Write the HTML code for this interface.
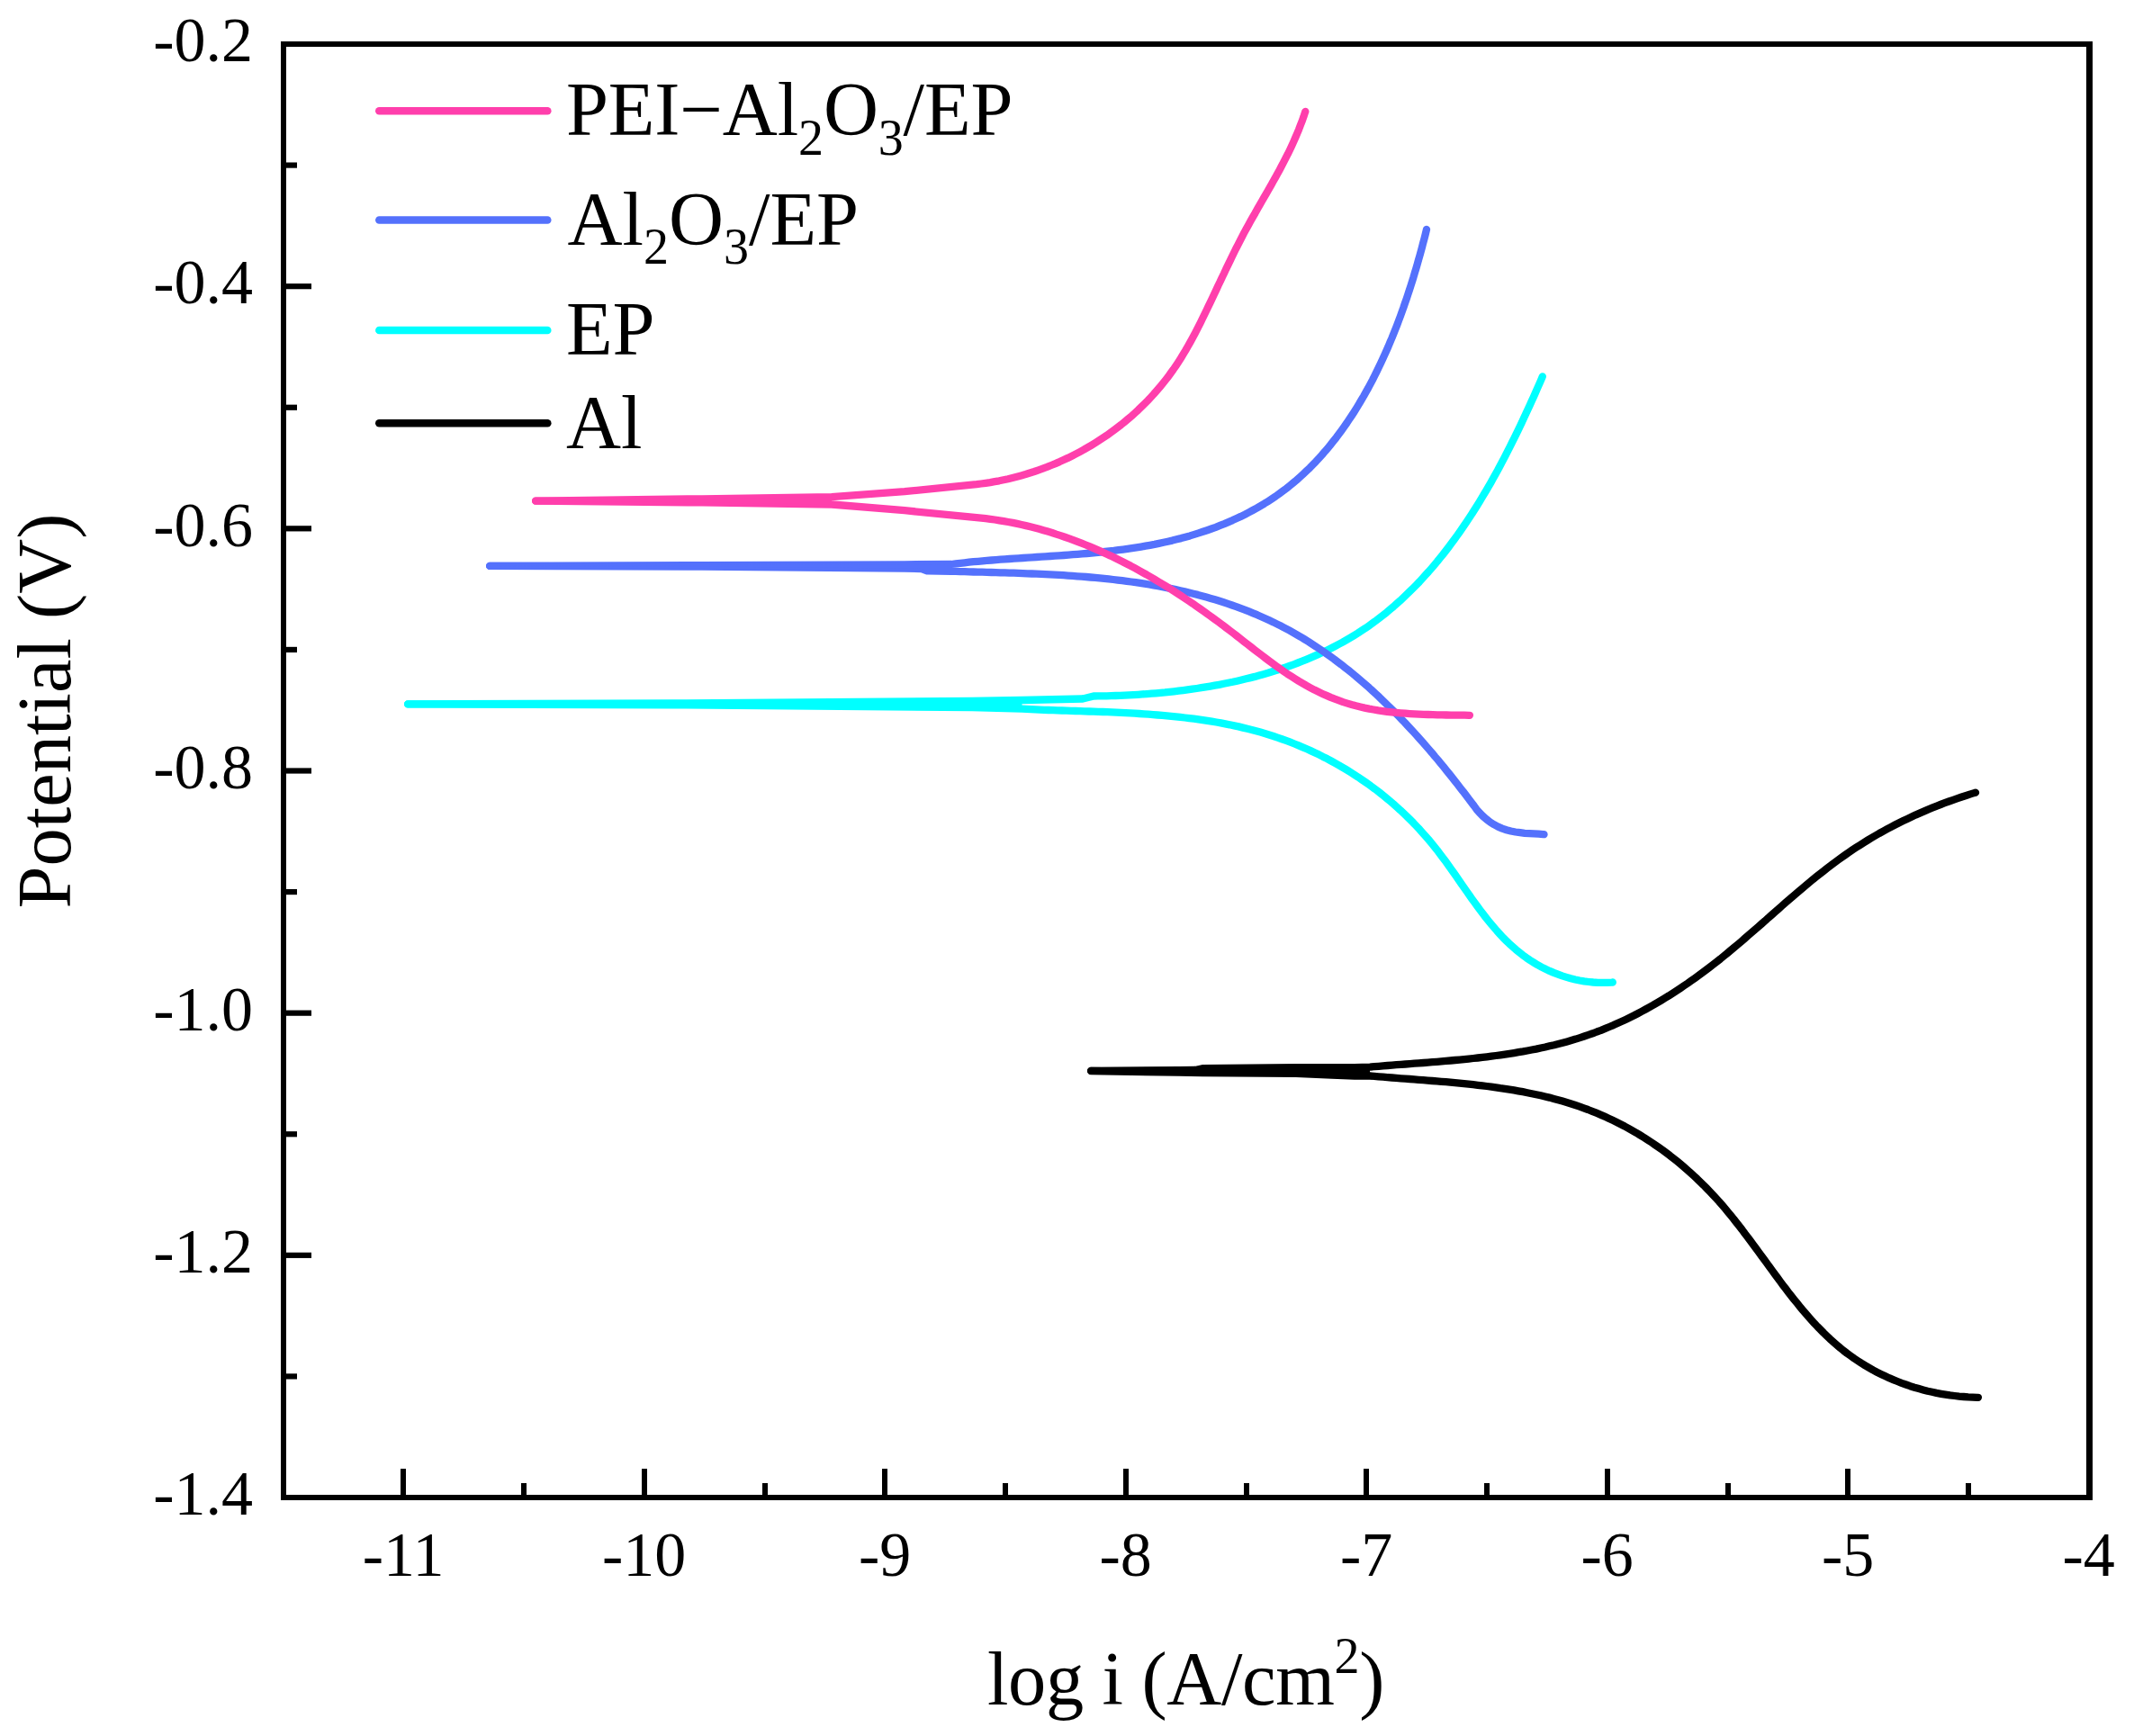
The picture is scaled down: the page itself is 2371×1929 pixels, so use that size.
<!DOCTYPE html>
<html lang="en"><head><meta charset="utf-8"><title>Polarization curves</title>
<style>html,body{margin:0;padding:0;background:#fff}body{width:2371px;height:1929px;overflow:hidden}svg{display:block}text{font-family:"Liberation Serif","Times New Roman",serif;fill:#000}.tk{font-size:70px}.lb{font-size:84.5px}.sub{font-size:56px}</style></head><body>
<svg width="2371" height="1929" viewBox="0 0 2371 1929">
<rect x="0" y="0" width="2371" height="1929" fill="#fff"/>
<g fill="none" stroke-linecap="round" stroke-linejoin="round">
<path d="M1212.1,1189.9 L1310.0,1189.2 L1328.0,1189.0 L1336.0,1187.2 L1440.0,1186.2 L1505.0,1186.1 L1522.0,1185.6 L1526.9,1185.2 L1531.8,1184.8 L1536.7,1184.4 L1541.6,1184.0 L1546.5,1183.6 L1551.5,1183.2 L1556.4,1182.8 L1561.4,1182.5 L1566.4,1182.1 L1571.4,1181.7 L1576.4,1181.3 L1581.4,1181.0 L1586.4,1180.6 L1591.5,1180.2 L1596.5,1179.8 L1601.5,1179.3 L1606.6,1178.9 L1611.6,1178.5 L1616.7,1178.0 L1621.7,1177.6 L1626.8,1177.1 L1631.8,1176.6 L1636.9,1176.0 L1641.9,1175.5 L1647.0,1174.9 L1652.0,1174.3 L1657.0,1173.7 L1662.1,1173.0 L1667.1,1172.3 L1672.1,1171.6 L1677.1,1170.9 L1682.1,1170.1 L1687.1,1169.2 L1692.1,1168.4 L1697.0,1167.5 L1702.0,1166.5 L1706.9,1165.6 L1711.9,1164.5 L1716.8,1163.5 L1721.7,1162.3 L1726.6,1161.2 L1731.4,1160.0 L1736.3,1158.7 L1741.1,1157.4 L1745.9,1156.0 L1750.7,1154.6 L1755.4,1153.1 L1760.2,1151.5 L1764.9,1149.9 L1769.6,1148.3 L1774.2,1146.5 L1778.9,1144.8 L1783.5,1142.9 L1788.1,1141.0 L1792.7,1139.1 L1797.2,1137.0 L1801.7,1135.0 L1806.2,1132.9 L1810.7,1130.7 L1815.2,1128.5 L1819.6,1126.2 L1824.0,1123.9 L1828.4,1121.5 L1832.7,1119.1 L1837.1,1116.7 L1841.4,1114.2 L1845.7,1111.6 L1849.9,1109.0 L1854.2,1106.4 L1858.4,1103.7 L1862.6,1101.0 L1866.8,1098.2 L1870.9,1095.4 L1875.1,1092.6 L1879.2,1089.7 L1883.3,1086.8 L1887.3,1083.9 L1891.4,1080.9 L1895.4,1077.9 L1899.4,1074.9 L1903.4,1071.8 L1907.3,1068.7 L1911.3,1065.6 L1915.2,1062.4 L1919.1,1059.2 L1922.9,1056.0 L1926.8,1052.8 L1930.6,1049.6 L1934.5,1046.3 L1938.3,1043.0 L1942.1,1039.7 L1945.9,1036.4 L1949.7,1033.1 L1953.5,1029.8 L1957.3,1026.5 L1961.1,1023.2 L1964.8,1019.8 L1968.6,1016.5 L1972.4,1013.2 L1976.2,1009.8 L1979.9,1006.5 L1983.7,1003.2 L1987.5,999.9 L1991.3,996.6 L1995.1,993.4 L1998.9,990.1 L2002.8,986.8 L2006.6,983.6 L2010.5,980.4 L2014.3,977.2 L2018.2,974.1 L2022.1,971.0 L2026.0,967.9 L2030.0,964.8 L2034.0,961.8 L2038.0,958.8 L2042.0,955.8 L2046.0,952.9 L2050.1,950.0 L2054.2,947.1 L2058.3,944.3 L2062.5,941.6 L2066.7,938.9 L2070.9,936.2 L2075.1,933.6 L2079.4,931.0 L2083.7,928.5 L2088.0,926.0 L2092.4,923.6 L2096.8,921.2 L2101.2,918.8 L2105.6,916.5 L2110.1,914.2 L2114.6,912.0 L2119.1,909.9 L2123.7,907.7 L2128.2,905.6 L2132.8,903.6 L2137.4,901.6 L2142.0,899.6 L2146.7,897.7 L2151.3,895.8 L2156.0,894.0 L2160.7,892.2 L2165.4,890.5 L2170.2,888.8 L2175.0,887.1 L2179.7,885.5 L2184.5,884.0 L2189.3,882.4 L2194.2,880.9 L2195.0,880.7" stroke="#000000" stroke-width="8.3"/>
<path d="M1212.1,1190.0 L1310.0,1191.7 L1336.0,1192.0 L1440.0,1192.8 L1480.0,1194.5 L1505.0,1195.6 L1522.0,1195.5 L1526.9,1195.9 L1531.7,1196.3 L1536.6,1196.7 L1541.5,1197.1 L1546.5,1197.5 L1551.4,1197.9 L1556.4,1198.3 L1561.3,1198.7 L1566.3,1199.0 L1571.3,1199.4 L1576.3,1199.8 L1581.3,1200.2 L1586.3,1200.6 L1591.4,1201.0 L1596.4,1201.4 L1601.5,1201.8 L1606.5,1202.2 L1611.5,1202.7 L1616.6,1203.1 L1621.7,1203.6 L1626.7,1204.1 L1631.8,1204.6 L1636.8,1205.2 L1641.9,1205.8 L1646.9,1206.4 L1652.0,1207.0 L1657.0,1207.6 L1662.0,1208.3 L1667.0,1209.1 L1672.1,1209.8 L1677.1,1210.6 L1682.1,1211.4 L1687.0,1212.3 L1692.0,1213.2 L1697.0,1214.2 L1701.9,1215.2 L1706.8,1216.2 L1711.8,1217.3 L1716.7,1218.5 L1721.5,1219.6 L1726.4,1220.9 L1731.2,1222.2 L1736.0,1223.6 L1740.8,1225.0 L1745.6,1226.5 L1750.3,1228.0 L1755.1,1229.6 L1759.7,1231.3 L1764.4,1233.0 L1769.0,1234.8 L1773.7,1236.7 L1778.2,1238.6 L1782.8,1240.6 L1787.3,1242.7 L1791.8,1244.8 L1796.3,1247.0 L1800.7,1249.2 L1805.1,1251.5 L1809.4,1253.9 L1813.8,1256.4 L1818.1,1258.8 L1822.3,1261.4 L1826.6,1264.0 L1830.8,1266.7 L1834.9,1269.4 L1839.0,1272.2 L1843.1,1275.0 L1847.2,1277.9 L1851.2,1280.9 L1855.2,1283.9 L1859.1,1287.0 L1863.0,1290.1 L1866.9,1293.3 L1870.7,1296.5 L1874.5,1299.8 L1878.2,1303.1 L1881.9,1306.5 L1885.6,1309.9 L1889.2,1313.4 L1892.8,1316.9 L1896.3,1320.5 L1899.8,1324.1 L1903.3,1327.8 L1906.7,1331.5 L1910.1,1335.2 L1913.4,1339.0 L1916.7,1342.9 L1919.9,1346.8 L1923.1,1350.7 L1926.3,1354.6 L1929.4,1358.6 L1932.6,1362.6 L1935.7,1366.6 L1938.7,1370.7 L1941.8,1374.7 L1944.8,1378.8 L1947.9,1382.9 L1950.9,1387.0 L1953.9,1391.1 L1956.9,1395.2 L1959.9,1399.3 L1962.9,1403.4 L1965.9,1407.5 L1968.9,1411.6 L1971.9,1415.7 L1974.9,1419.8 L1977.9,1423.9 L1980.9,1427.9 L1984.0,1431.9 L1987.0,1435.9 L1990.1,1439.9 L1993.2,1443.8 L1996.4,1447.7 L1999.5,1451.6 L2002.7,1455.5 L2006.0,1459.3 L2009.2,1463.0 L2012.5,1466.7 L2015.8,1470.4 L2019.2,1474.0 L2022.7,1477.5 L2026.1,1481.0 L2029.7,1484.4 L2033.2,1487.8 L2036.9,1491.1 L2040.6,1494.3 L2044.3,1497.5 L2048.1,1500.6 L2052.0,1503.6 L2056.0,1506.5 L2060.0,1509.4 L2064.1,1512.1 L2068.2,1514.8 L2072.4,1517.4 L2076.7,1519.9 L2081.0,1522.4 L2085.4,1524.7 L2089.9,1526.9 L2094.4,1529.1 L2098.9,1531.2 L2103.5,1533.1 L2108.2,1535.0 L2112.8,1536.8 L2117.6,1538.5 L2122.3,1540.2 L2127.1,1541.7 L2132.0,1543.1 L2136.8,1544.4 L2141.7,1545.7 L2146.7,1546.8 L2151.6,1547.9 L2156.6,1548.8 L2161.6,1549.6 L2166.6,1550.4 L2171.6,1551.0 L2176.7,1551.6 L2181.7,1552.0 L2186.8,1552.4 L2191.9,1552.6 L2196.9,1552.8 L2197.9,1552.8" stroke="#000000" stroke-width="8.3"/>
<path d="M453.1,782.4 L748.0,781.4 L1080.0,778.9 L1135.5,778.0 L1203.0,776.5 L1215.0,773.5 L1219.9,773.4 L1224.7,773.4 L1229.6,773.3 L1234.6,773.1 L1239.5,773.0 L1244.4,772.8 L1249.4,772.6 L1254.3,772.3 L1259.3,772.1 L1264.3,771.8 L1269.3,771.4 L1274.3,771.1 L1279.3,770.7 L1284.3,770.3 L1289.4,769.8 L1294.4,769.4 L1299.4,768.8 L1304.4,768.3 L1309.5,767.7 L1314.5,767.1 L1319.5,766.4 L1324.6,765.7 L1329.6,765.0 L1334.6,764.2 L1339.6,763.4 L1344.6,762.6 L1349.6,761.7 L1354.6,760.8 L1359.6,759.8 L1364.6,758.8 L1369.6,757.8 L1374.5,756.7 L1379.5,755.5 L1384.4,754.3 L1389.3,753.1 L1394.2,751.9 L1399.1,750.5 L1403.9,749.2 L1408.8,747.8 L1413.6,746.3 L1418.4,744.8 L1423.2,743.2 L1428.0,741.6 L1432.7,740.0 L1437.4,738.3 L1442.1,736.5 L1446.8,734.7 L1451.4,732.8 L1456.0,730.9 L1460.6,728.9 L1465.1,726.9 L1469.6,724.8 L1474.1,722.7 L1478.6,720.5 L1483.0,718.2 L1487.4,715.9 L1491.7,713.6 L1496.0,711.1 L1500.3,708.6 L1504.5,706.1 L1508.7,703.5 L1512.8,700.8 L1517.0,698.1 L1521.0,695.3 L1525.0,692.4 L1529.0,689.5 L1532.9,686.5 L1536.8,683.5 L1540.7,680.4 L1544.5,677.2 L1548.3,674.0 L1552.0,670.7 L1555.7,667.4 L1559.3,664.0 L1562.9,660.6 L1566.5,657.1 L1570.0,653.6 L1573.5,650.1 L1577.0,646.5 L1580.4,642.8 L1583.7,639.1 L1587.1,635.4 L1590.4,631.6 L1593.6,627.8 L1596.9,623.9 L1600.0,620.0 L1603.2,616.1 L1606.3,612.1 L1609.4,608.1 L1612.4,604.1 L1615.4,600.0 L1618.4,595.9 L1621.3,591.8 L1624.2,587.6 L1627.1,583.4 L1629.9,579.2 L1632.7,575.0 L1635.5,570.8 L1638.2,566.5 L1640.9,562.2 L1643.6,557.9 L1646.2,553.5 L1648.8,549.2 L1651.4,544.8 L1654.0,540.4 L1656.5,536.1 L1659.0,531.6 L1661.4,527.2 L1663.9,522.8 L1666.3,518.3 L1668.6,513.9 L1671.0,509.4 L1673.3,504.9 L1675.6,500.4 L1677.9,495.9 L1680.1,491.4 L1682.4,486.9 L1684.6,482.4 L1686.8,477.9 L1688.9,473.4 L1691.1,468.9 L1693.2,464.3 L1695.3,459.8 L1697.4,455.3 L1699.5,450.7 L1701.5,446.2 L1703.6,441.7 L1705.6,437.2 L1707.6,432.6 L1709.6,428.1 L1711.6,423.6 L1713.5,419.1 L1713.8,418.4" stroke="#00ffff" stroke-width="8.3"/>
<path d="M453.1,782.4 L748.0,783.3 L1080.0,786.1 L1135.5,787.7 L1140.4,787.9 L1145.3,788.2 L1150.2,788.4 L1155.1,788.6 L1160.1,788.8 L1165.0,789.0 L1170.0,789.1 L1175.0,789.3 L1179.9,789.5 L1184.9,789.6 L1190.0,789.8 L1195.0,790.0 L1200.0,790.1 L1205.0,790.3 L1210.1,790.5 L1215.1,790.7 L1220.2,790.8 L1225.3,791.0 L1230.3,791.2 L1235.4,791.4 L1240.5,791.7 L1245.5,791.9 L1250.6,792.2 L1255.7,792.4 L1260.8,792.7 L1265.8,793.0 L1270.9,793.4 L1276.0,793.7 L1281.1,794.1 L1286.1,794.5 L1291.2,794.9 L1296.3,795.4 L1301.3,795.8 L1306.4,796.3 L1311.4,796.9 L1316.5,797.5 L1321.5,798.1 L1326.5,798.7 L1331.5,799.4 L1336.5,800.1 L1341.5,800.9 L1346.5,801.7 L1351.5,802.5 L1356.5,803.4 L1361.4,804.4 L1366.3,805.3 L1371.3,806.4 L1376.2,807.4 L1381.0,808.6 L1385.9,809.8 L1390.8,811.0 L1395.6,812.3 L1400.4,813.6 L1405.2,815.0 L1410.0,816.5 L1414.8,818.0 L1419.5,819.6 L1424.2,821.2 L1428.9,822.9 L1433.6,824.7 L1438.2,826.5 L1442.8,828.4 L1447.4,830.3 L1452.0,832.3 L1456.6,834.4 L1461.1,836.5 L1465.6,838.6 L1470.0,840.9 L1474.5,843.1 L1478.9,845.5 L1483.2,847.9 L1487.6,850.3 L1491.9,852.8 L1496.2,855.4 L1500.4,858.0 L1504.6,860.7 L1508.8,863.4 L1512.9,866.2 L1517.0,869.0 L1521.1,871.9 L1525.1,874.8 L1529.1,877.8 L1533.1,880.9 L1537.0,884.0 L1540.9,887.2 L1544.7,890.4 L1548.5,893.6 L1552.2,897.0 L1555.9,900.3 L1559.6,903.8 L1563.2,907.2 L1566.8,910.8 L1570.3,914.3 L1573.8,918.0 L1577.3,921.7 L1580.6,925.4 L1584.0,929.2 L1587.3,933.0 L1590.5,936.9 L1593.7,940.9 L1596.9,944.8 L1600.0,948.9 L1603.0,953.0 L1606.1,957.1 L1609.1,961.2 L1612.0,965.3 L1615.0,969.5 L1617.9,973.7 L1620.8,977.9 L1623.7,982.1 L1626.7,986.3 L1629.6,990.5 L1632.5,994.7 L1635.4,998.8 L1638.4,1002.9 L1641.4,1007.0 L1644.4,1011.1 L1647.4,1015.1 L1650.5,1019.1 L1653.6,1023.0 L1656.8,1026.9 L1660.0,1030.7 L1663.2,1034.4 L1666.6,1038.1 L1669.9,1041.7 L1673.4,1045.2 L1676.9,1048.6 L1680.6,1051.9 L1684.3,1055.2 L1688.1,1058.3 L1691.9,1061.3 L1695.9,1064.2 L1700.0,1067.0 L1704.2,1069.6 L1708.4,1072.2 L1712.8,1074.6 L1717.2,1076.8 L1721.7,1078.9 L1726.3,1080.9 L1731.0,1082.7 L1735.7,1084.4 L1740.5,1085.9 L1745.3,1087.3 L1750.2,1088.5 L1755.1,1089.5 L1760.1,1090.4 L1765.1,1091.0 L1770.2,1091.5 L1775.3,1091.8 L1780.4,1091.9 L1785.5,1091.9 L1790.7,1091.6 L1791.8,1091.5" stroke="#00ffff" stroke-width="8.3"/>
<path d="M544.1,628.9 L780.0,628.1 L1005.0,627.3 L1057.0,627.0 L1061.9,626.4 L1066.8,625.8 L1071.7,625.3 L1076.7,624.7 L1081.6,624.2 L1086.6,623.8 L1091.6,623.3 L1096.5,622.9 L1101.5,622.5 L1106.5,622.1 L1111.5,621.7 L1116.5,621.3 L1121.5,621.0 L1126.6,620.6 L1131.6,620.3 L1136.6,620.0 L1141.7,619.6 L1146.7,619.3 L1151.7,619.0 L1156.8,618.7 L1161.8,618.4 L1166.9,618.0 L1172.0,617.7 L1177.0,617.3 L1182.1,617.0 L1187.1,616.6 L1192.2,616.2 L1197.3,615.8 L1202.3,615.4 L1207.4,615.0 L1212.4,614.5 L1217.5,614.0 L1222.5,613.5 L1227.6,613.0 L1232.6,612.4 L1237.6,611.9 L1242.7,611.2 L1247.7,610.6 L1252.7,609.9 L1257.7,609.1 L1262.7,608.4 L1267.7,607.6 L1272.7,606.7 L1277.7,605.8 L1282.7,604.9 L1287.6,603.9 L1292.6,602.8 L1297.5,601.7 L1302.4,600.6 L1307.4,599.3 L1312.3,598.1 L1317.2,596.7 L1322.0,595.4 L1326.9,593.9 L1331.7,592.4 L1336.5,590.8 L1341.3,589.2 L1346.1,587.5 L1350.8,585.8 L1355.5,583.9 L1360.2,582.1 L1364.9,580.1 L1369.5,578.1 L1374.0,576.0 L1378.6,573.9 L1383.1,571.7 L1387.5,569.4 L1391.9,567.0 L1396.3,564.6 L1400.6,562.1 L1404.8,559.6 L1409.1,556.9 L1413.2,554.2 L1417.3,551.5 L1421.3,548.6 L1425.3,545.7 L1429.3,542.7 L1433.1,539.6 L1436.9,536.5 L1440.7,533.3 L1444.4,530.0 L1448.0,526.7 L1451.6,523.3 L1455.2,519.9 L1458.6,516.4 L1462.1,512.8 L1465.4,509.2 L1468.8,505.5 L1472.0,501.7 L1475.3,498.0 L1478.4,494.1 L1481.5,490.2 L1484.6,486.3 L1487.6,482.3 L1490.6,478.2 L1493.5,474.1 L1496.4,470.0 L1499.2,465.8 L1502.0,461.6 L1504.7,457.4 L1507.4,453.1 L1510.1,448.7 L1512.6,444.4 L1515.2,440.0 L1517.7,435.5 L1520.2,431.1 L1522.6,426.6 L1525.0,422.1 L1527.3,417.5 L1529.6,412.9 L1531.8,408.3 L1534.0,403.7 L1536.2,399.0 L1538.3,394.4 L1540.4,389.7 L1542.5,385.0 L1544.5,380.2 L1546.5,375.5 L1548.4,370.7 L1550.3,366.0 L1552.2,361.2 L1554.0,356.4 L1555.8,351.6 L1557.5,346.8 L1559.3,341.9 L1560.9,337.1 L1562.6,332.3 L1564.2,327.5 L1565.8,322.6 L1567.4,317.8 L1568.9,313.0 L1570.4,308.2 L1571.8,303.3 L1573.3,298.5 L1574.7,293.7 L1576.0,288.9 L1577.4,284.1 L1578.7,279.4 L1580.0,274.6 L1581.2,269.8 L1582.5,265.1 L1583.7,260.4 L1584.8,255.7 L1585.0,255.0" stroke="#5471fc" stroke-width="8.3"/>
<path d="M544.1,628.9 L780.0,629.6 L1005.0,631.6 L1024.0,632.0 L1030.0,634.3 L1057.0,634.8 L1061.9,634.9 L1066.8,635.1 L1071.7,635.2 L1076.6,635.3 L1081.6,635.5 L1086.5,635.6 L1091.5,635.7 L1096.4,635.8 L1101.4,636.0 L1106.4,636.1 L1111.4,636.3 L1116.4,636.4 L1121.4,636.6 L1126.4,636.7 L1131.4,636.9 L1136.4,637.1 L1141.4,637.3 L1146.4,637.5 L1151.4,637.7 L1156.5,637.9 L1161.5,638.1 L1166.5,638.4 L1171.5,638.7 L1176.6,638.9 L1181.6,639.2 L1186.6,639.6 L1191.7,639.9 L1196.7,640.3 L1201.7,640.6 L1206.8,641.0 L1211.8,641.5 L1216.8,641.9 L1221.9,642.4 L1226.9,642.9 L1231.9,643.4 L1236.9,644.0 L1241.9,644.6 L1246.9,645.2 L1251.9,645.8 L1256.9,646.5 L1261.9,647.2 L1266.9,647.9 L1271.8,648.7 L1276.8,649.5 L1281.8,650.3 L1286.7,651.2 L1291.6,652.1 L1296.6,653.1 L1301.5,654.1 L1306.4,655.1 L1311.3,656.2 L1316.2,657.3 L1321.0,658.5 L1325.9,659.7 L1330.8,660.9 L1335.6,662.2 L1340.4,663.5 L1345.2,664.9 L1350.0,666.3 L1354.8,667.8 L1359.5,669.3 L1364.2,670.9 L1368.9,672.5 L1373.6,674.1 L1378.3,675.9 L1383.0,677.6 L1387.6,679.4 L1392.2,681.3 L1396.8,683.2 L1401.3,685.2 L1405.8,687.2 L1410.3,689.3 L1414.8,691.4 L1419.2,693.6 L1423.7,695.8 L1428.0,698.1 L1432.4,700.4 L1436.7,702.8 L1441.0,705.3 L1445.3,707.8 L1449.5,710.4 L1453.8,713.0 L1457.9,715.7 L1462.1,718.4 L1466.2,721.1 L1470.3,723.9 L1474.4,726.8 L1478.4,729.7 L1482.5,732.6 L1486.4,735.6 L1490.4,738.6 L1494.3,741.7 L1498.3,744.8 L1502.1,747.9 L1506.0,751.1 L1509.8,754.4 L1513.6,757.6 L1517.4,760.9 L1521.2,764.2 L1524.9,767.6 L1528.6,771.0 L1532.3,774.4 L1535.9,777.9 L1539.5,781.4 L1543.1,784.9 L1546.7,788.5 L1550.3,792.0 L1553.8,795.6 L1557.3,799.3 L1560.8,802.9 L1564.2,806.6 L1567.7,810.3 L1571.1,814.0 L1574.5,817.7 L1577.8,821.5 L1581.2,825.3 L1584.5,829.1 L1587.8,832.9 L1591.1,836.7 L1594.3,840.6 L1597.6,844.4 L1600.8,848.3 L1604.0,852.2 L1607.1,856.1 L1610.3,860.0 L1613.4,863.9 L1616.5,867.8 L1619.6,871.8 L1622.6,875.7 L1625.7,879.6 L1628.7,883.6 L1631.7,887.5 L1634.7,891.5 L1637.7,895.4 L1640.6,899.4 L1644.0,903.3 L1647.7,907.0 L1651.6,910.4 L1655.6,913.5 L1659.9,916.2 L1664.4,918.6 L1669.0,920.6 L1673.8,922.2 L1678.7,923.5 L1683.8,924.5 L1688.9,925.2 L1694.0,925.8 L1699.2,926.1 L1704.3,926.4 L1709.5,926.7 L1714.6,927.1 L1715.5,927.2" stroke="#5471fc" stroke-width="8.3"/>
<path d="M595.1,556.6 L780.0,554.3 L924.0,552.2 L1005.0,546.2 L1080.0,538.7 L1085.0,538.2 L1090.1,537.5 L1095.1,536.8 L1100.1,536.1 L1105.1,535.2 L1110.1,534.3 L1115.0,533.3 L1120.0,532.2 L1124.9,531.0 L1129.8,529.7 L1134.6,528.4 L1139.5,527.0 L1144.3,525.5 L1149.1,524.0 L1153.9,522.3 L1158.6,520.6 L1163.3,518.9 L1168.0,517.0 L1172.7,515.1 L1177.3,513.1 L1181.8,511.0 L1186.4,508.9 L1190.9,506.7 L1195.4,504.4 L1199.8,502.1 L1204.2,499.7 L1208.5,497.2 L1212.9,494.6 L1217.1,492.0 L1221.3,489.3 L1225.5,486.6 L1229.7,483.8 L1233.7,480.9 L1237.8,477.9 L1241.8,474.9 L1245.7,471.9 L1249.6,468.7 L1253.4,465.5 L1257.2,462.3 L1260.9,459.0 L1264.6,455.6 L1268.2,452.1 L1271.7,448.6 L1275.2,445.1 L1278.6,441.5 L1282.0,437.8 L1285.3,434.0 L1288.5,430.3 L1291.7,426.4 L1294.8,422.5 L1297.9,418.6 L1300.8,414.5 L1303.7,410.5 L1306.6,406.3 L1309.3,402.2 L1312.0,398.0 L1314.6,393.7 L1317.2,389.4 L1319.7,385.0 L1322.2,380.6 L1324.6,376.2 L1327.0,371.8 L1329.3,367.3 L1331.6,362.8 L1333.9,358.3 L1336.1,353.8 L1338.3,349.2 L1340.5,344.7 L1342.7,340.1 L1344.9,335.6 L1347.1,331.0 L1349.2,326.5 L1351.4,321.9 L1353.5,317.3 L1355.7,312.8 L1357.8,308.2 L1360.0,303.7 L1362.1,299.1 L1364.3,294.6 L1366.5,290.1 L1368.7,285.5 L1370.9,281.0 L1373.1,276.5 L1375.4,272.1 L1377.7,267.6 L1380.0,263.1 L1382.3,258.7 L1384.7,254.3 L1387.1,249.9 L1389.5,245.5 L1392.0,241.1 L1394.5,236.8 L1396.9,232.4 L1399.4,228.1 L1401.9,223.7 L1404.4,219.4 L1406.9,215.1 L1409.4,210.7 L1411.9,206.4 L1414.3,202.0 L1416.8,197.7 L1419.2,193.3 L1421.6,188.9 L1423.9,184.5 L1426.2,180.1 L1428.5,175.6 L1430.8,171.2 L1433.0,166.7 L1435.1,162.2 L1437.2,157.6 L1439.2,153.0 L1441.2,148.4 L1443.1,143.8 L1444.9,139.1 L1446.7,134.4 L1448.4,129.7 L1450.0,124.8 L1450.3,124.0" stroke="#ff3fac" stroke-width="8.3"/>
<path d="M595.1,556.7 L780.0,558.4 L924.0,560.5 L1005.0,567.2 L1080.0,574.7 L1085.1,575.1 L1090.2,575.6 L1095.2,576.2 L1100.3,576.8 L1105.3,577.5 L1110.3,578.3 L1115.3,579.1 L1120.2,580.0 L1125.2,580.9 L1130.1,581.9 L1135.0,583.0 L1139.9,584.1 L1144.8,585.3 L1149.6,586.5 L1154.5,587.8 L1159.3,589.2 L1164.1,590.6 L1168.9,592.0 L1173.6,593.6 L1178.4,595.1 L1183.1,596.7 L1187.8,598.4 L1192.5,600.1 L1197.1,601.9 L1201.8,603.7 L1206.4,605.5 L1211.0,607.4 L1215.6,609.4 L1220.2,611.4 L1224.8,613.4 L1229.3,615.5 L1233.9,617.6 L1238.4,619.8 L1242.9,622.0 L1247.4,624.2 L1251.8,626.5 L1256.3,628.8 L1260.7,631.2 L1265.1,633.6 L1269.5,636.1 L1273.9,638.5 L1278.2,641.0 L1282.6,643.6 L1286.9,646.2 L1291.2,648.8 L1295.5,651.4 L1299.8,654.1 L1304.1,656.8 L1308.3,659.5 L1312.6,662.3 L1316.8,665.1 L1321.0,667.9 L1325.2,670.7 L1329.3,673.6 L1333.5,676.5 L1337.6,679.4 L1341.7,682.4 L1345.9,685.3 L1350.0,688.3 L1354.0,691.3 L1358.1,694.3 L1362.1,697.4 L1366.2,700.5 L1370.2,703.5 L1374.2,706.6 L1378.2,709.7 L1382.2,712.9 L1386.2,716.0 L1390.2,719.1 L1394.1,722.2 L1398.1,725.3 L1402.1,728.3 L1406.1,731.4 L1410.1,734.4 L1414.2,737.4 L1418.2,740.3 L1422.3,743.2 L1426.4,746.1 L1430.5,748.9 L1434.7,751.6 L1438.9,754.3 L1443.1,756.9 L1447.4,759.4 L1451.7,761.9 L1456.1,764.3 L1460.4,766.6 L1464.9,768.8 L1469.4,770.9 L1473.9,772.9 L1478.4,774.9 L1483.0,776.7 L1487.7,778.4 L1492.3,780.1 L1497.1,781.6 L1501.8,783.0 L1506.6,784.3 L1511.5,785.5 L1516.3,786.6 L1521.2,787.6 L1526.2,788.5 L1531.2,789.4 L1536.1,790.1 L1541.2,790.8 L1546.2,791.4 L1551.2,791.9 L1556.3,792.3 L1561.4,792.7 L1566.4,793.1 L1571.5,793.4 L1576.6,793.6 L1581.7,793.9 L1586.8,794.0 L1591.9,794.2 L1597.0,794.3 L1602.0,794.4 L1607.1,794.5 L1612.1,794.6 L1617.1,794.6 L1622.1,794.7 L1627.1,794.7 L1632.1,794.8 L1632.9,794.8" stroke="#ff3fac" stroke-width="8.3"/>
</g>
<polygon points="1212.2,1189.9 1310.0,1189.2 1328.0,1189.0 1336.0,1187.2 1440.0,1186.2 1505.0,1186.1 1522.0,1185.6 1522.0,1195.5 1505.0,1195.6 1480.0,1194.5 1440.0,1192.8 1336.0,1192.0 1310.0,1191.7 1212.2,1189.9" fill="#000000"/>
<polygon points="453.1,782.4 748.0,781.4 1080.0,778.9 1135.5,778.0 1135.5,787.7 1080.0,786.1 748.0,783.3 453.1,782.4" fill="#00ffff"/>
<polygon points="544.1,628.9 780.0,628.1 1005.0,627.3 1057.0,627.0 1057.0,634.8 1030.0,634.3 1024.0,632.0 1005.0,631.6 780.0,629.6 544.1,628.9" fill="#5471fc"/>
<polygon points="595.1,556.7 780.0,554.3 924.0,552.2 924.0,560.5 780.0,558.4 595.1,556.7" fill="#ff3fac"/>
<g fill="#000" shape-rendering="crispEdges">
<rect x="312" y="46" width="2013" height="6"/>
<rect x="312" y="1661" width="2013" height="6"/>
<rect x="312" y="46" width="6" height="1621"/>
<rect x="2318" y="46" width="7" height="1621"/>
<rect x="318" y="180.48" width="12" height="6.2" shape-rendering="auto"/>
<rect x="318" y="315.07" width="28" height="6.2" shape-rendering="auto"/>
<rect x="318" y="449.65" width="12" height="6.2" shape-rendering="auto"/>
<rect x="318" y="584.23" width="28" height="6.2" shape-rendering="auto"/>
<rect x="318" y="718.82" width="12" height="6.2" shape-rendering="auto"/>
<rect x="318" y="853.40" width="28" height="6.2" shape-rendering="auto"/>
<rect x="318" y="987.98" width="12" height="6.2" shape-rendering="auto"/>
<rect x="318" y="1122.57" width="28" height="6.2" shape-rendering="auto"/>
<rect x="318" y="1257.15" width="12" height="6.2" shape-rendering="auto"/>
<rect x="318" y="1391.73" width="28" height="6.2" shape-rendering="auto"/>
<rect x="318" y="1526.32" width="12" height="6.2" shape-rendering="auto"/>
<rect x="445" y="1632" width="6" height="29"/>
<rect x="579" y="1648" width="6" height="13"/>
<rect x="713" y="1632" width="6" height="29"/>
<rect x="847" y="1648" width="6" height="13"/>
<rect x="980" y="1632" width="6" height="29"/>
<rect x="1114" y="1648" width="6" height="13"/>
<rect x="1248" y="1632" width="6" height="29"/>
<rect x="1382" y="1648" width="6" height="13"/>
<rect x="1515" y="1632" width="6" height="29"/>
<rect x="1649" y="1648" width="6" height="13"/>
<rect x="1783" y="1632" width="6" height="29"/>
<rect x="1917" y="1648" width="6" height="13"/>
<rect x="2050" y="1632" width="6" height="29"/>
<rect x="2184" y="1648" width="6" height="13"/>
</g>
<g class="tk">
<text x="281" y="68.2" text-anchor="end">-0.2</text>
<text x="281" y="337.4" text-anchor="end">-0.4</text>
<text x="281" y="606.5" text-anchor="end">-0.6</text>
<text x="281" y="875.7" text-anchor="end">-0.8</text>
<text x="281" y="1144.9" text-anchor="end">-1.0</text>
<text x="281" y="1414.0" text-anchor="end">-1.2</text>
<text x="281" y="1683.2" text-anchor="end">-1.4</text>
<text x="448.1" y="1750.5" text-anchor="middle">-11</text>
<text x="715.6" y="1750.5" text-anchor="middle">-10</text>
<text x="983.1" y="1750.5" text-anchor="middle">-9</text>
<text x="1250.7" y="1750.5" text-anchor="middle">-8</text>
<text x="1518.2" y="1750.5" text-anchor="middle">-7</text>
<text x="1785.7" y="1750.5" text-anchor="middle">-6</text>
<text x="2053.2" y="1750.5" text-anchor="middle">-5</text>
<text x="2320.7" y="1750.5" text-anchor="middle">-4</text>
</g>
<g class="lb">
<text transform="translate(78,1009.5) rotate(-90)">Potential (V)</text>
<text x="1097" y="1893.5" letter-spacing="-0.37">log i (A/cm<tspan class="sub" dy="-35">2</tspan><tspan dy="35">)</tspan></text>
</g>
<g stroke-linecap="round" stroke-width="8.5" fill="none">
<line x1="421.3" y1="123.3" x2="608.3" y2="123.3" stroke="#ff3fac"/>
<line x1="421.3" y1="244.5" x2="608.3" y2="244.5" stroke="#5471fc"/>
<line x1="421.3" y1="367.0" x2="608.3" y2="367.0" stroke="#00ffff"/>
<line x1="421.3" y1="470.3" x2="608.3" y2="470.3" stroke="#000000"/>
</g>
<g class="lb">
<text x="629" y="150.3" letter-spacing="-0.15">PEI−Al<tspan class="sub" dy="21.5">2</tspan><tspan dy="-21.5">O</tspan><tspan class="sub" dy="21.5">3</tspan><tspan dy="-21.5">/EP</tspan></text>
<text x="630.5" y="271.9">Al<tspan class="sub" dy="21.5">2</tspan><tspan dy="-21.5">O</tspan><tspan class="sub" dy="21.5">3</tspan><tspan dy="-21.5">/EP</tspan></text>
<text x="629" y="394.4">EP</text>
<text x="629" y="498.0">Al</text>
</g>
</svg></body></html>
